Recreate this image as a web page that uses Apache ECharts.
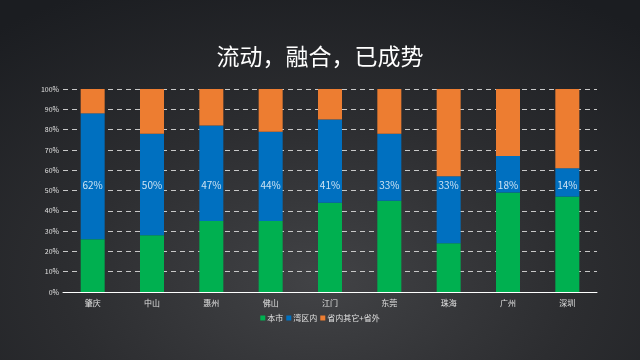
<!DOCTYPE html>
<html><head><meta charset="utf-8">
<script src="https://cdn.jsdelivr.net/npm/echarts@6/dist/echarts.min.js"></script>
<style>
html,body{margin:0;padding:0;width:640px;height:360px;overflow:hidden;
background:radial-gradient(ellipse 80% 90% at 50% 78%, #424346 0%, #2c2d30 50%, #1b1d21 100%);}
#c{width:640px;height:360px;}
</style></head><body><div id="c"></div>
<script>
const categories = ['肇庆','中山','惠州','佛山','江门','东莞','珠海','广州','深圳'];
const localCity = [26, 28, 35, 35, 44, 45, 24, 49, 47];
const bayArea   = [62, 50, 47, 44, 41, 33, 33, 18, 14];
const otherArea = [12, 22, 18, 21, 15, 22, 43, 33, 39];
const seriesNames = ['本市','湾区内','省内其它+省外'];
const labelLevel = 52.5;

const chart = echarts.init(document.getElementById('c'));
const font = '"Noto Sans CJK SC", "Noto Sans", sans-serif';
chart.setOption({
  backgroundColor: 'transparent',
  animation: false,
  title: {
    text: '流动，融合，已成势', left: 'center', top: 40,
    textStyle: {color: '#ffffff', fontSize: 23, fontWeight: 'normal', fontFamily: font}
  },
  legend: {
    data: seriesNames, bottom: 33, left: 'center',
    itemWidth: 5, itemHeight: 5, itemGap: 3, icon: 'rect',
    textStyle: {color: '#e0e0e0', fontSize: 8, fontFamily: font, padding: [0,0,0,-3]}
  },
  grid: {left: 63, right: 43, top: 89, bottom: 68, containLabel: false},
  xAxis: {
    type: 'category', data: categories,
    axisLine: {lineStyle: {color: '#ffffff', width: 1}},
    axisTick: {show: false},
    axisLabel: {color: '#e0e0e0', fontSize: 8, fontFamily: font, margin: 7}
  },
  yAxis: {
    type: 'value', min: 0, max: 100, interval: 10,
    axisLine: {show: false}, axisTick: {show: false},
    axisLabel: {formatter: '{value}%', color: '#e0e0e0', fontSize: 7, fontFamily: font, margin: 4},
    splitLine: {lineStyle: {color: '#c8c8c8', type: [5, 4], width: 1}}
  },
  series: [
    {name: seriesNames[0], type: 'bar', stack: 's', barWidth: 24, data: localCity, itemStyle: {color: '#00b050'}},
    {name: seriesNames[1], type: 'bar', stack: 's', barWidth: 24, data: bayArea, itemStyle: {color: '#0070c0'}},
    {name: seriesNames[2], type: 'bar', stack: 's', barWidth: 24, data: otherArea, itemStyle: {color: '#ed7d31'}},
    {name: 'labels', type: 'scatter', symbolSize: 0, silent: true, z: 10,
     data: bayArea.map(() => labelLevel),
     label: {show: true, position: 'inside', color: '#ffffff', fontSize: 10, fontFamily: font,
       formatter: p => bayArea[p.dataIndex] + '%'}}
  ]
});
</script></body></html>
